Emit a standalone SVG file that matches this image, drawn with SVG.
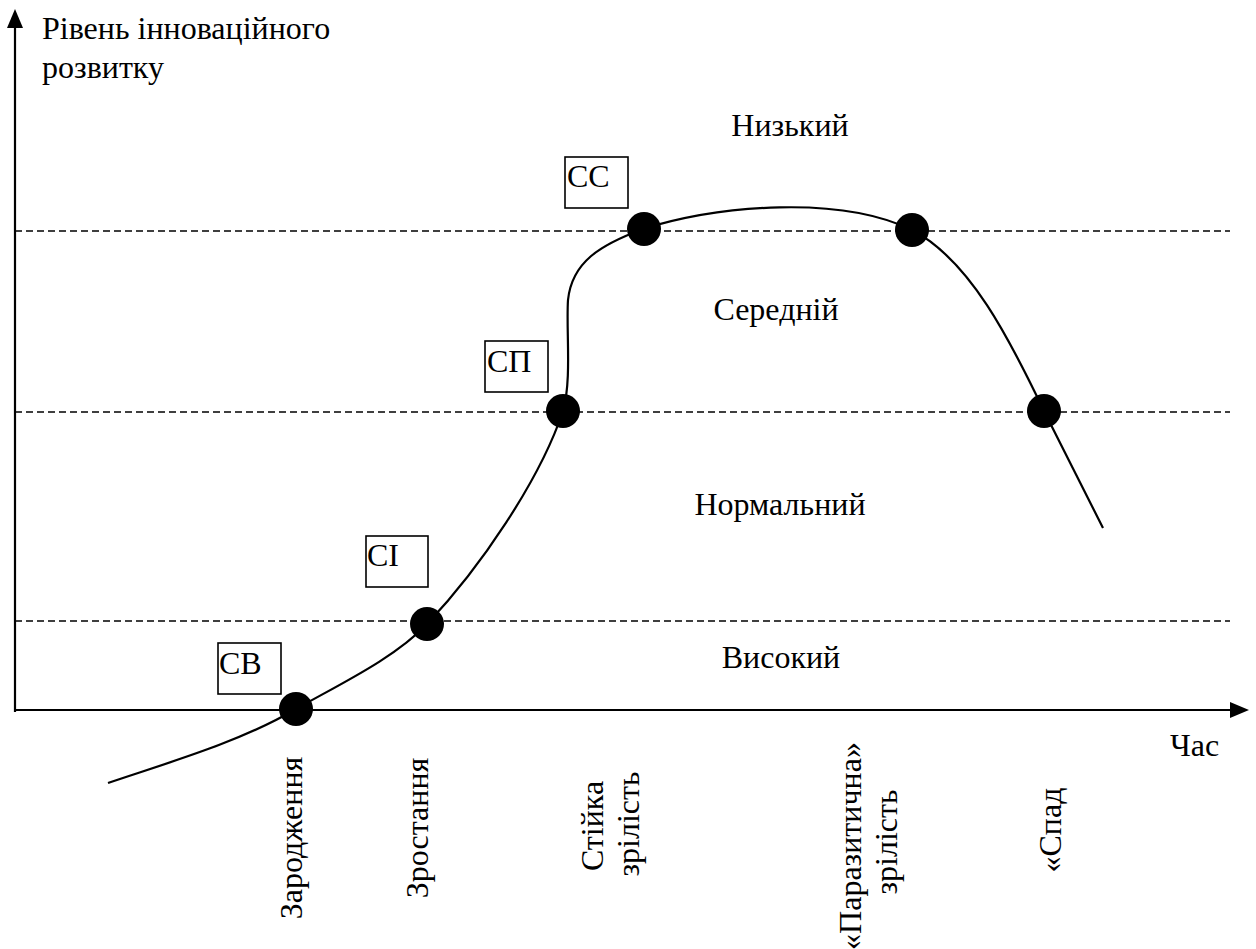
<svg xmlns="http://www.w3.org/2000/svg" width="1256" height="949" viewBox="0 0 1256 949">
<style>
text{font-family:'Liberation Serif','Times New Roman',serif;font-size:32px;fill:#000}
.axis{stroke:#000;stroke-width:2.2;fill:none}
.dash{stroke:#000;stroke-width:1.6;stroke-dasharray:7 4;fill:none}
.curve{stroke:#000;stroke-width:2.2;fill:none}
.dot{fill:#000}
.box{fill:#fff;stroke:#000;stroke-width:1.6}
.mid{text-anchor:middle}
</style>
<rect width="1256" height="949" fill="#fff"/>
<g id="axes">
<line class="axis" x1="15" y1="712" x2="15" y2="26"/>
<polygon points="15,9 7,28 23,28" fill="#000"/>
<line class="axis" x1="14" y1="710" x2="1232" y2="710"/>
<polygon points="1249,710 1230,702 1230,718" fill="#000"/>
<text x="42" y="39">Рівень інноваційного</text>
<text x="42" y="78">розвитку</text>
<text x="1170" y="756">Час</text>
</g>
<g id="levels">
<line class="dash" x1="15" y1="231" x2="1230" y2="231"/>
<line class="dash" x1="15" y1="412" x2="1230" y2="412"/>
<line class="dash" x1="15" y1="621" x2="1230" y2="621"/>
<text class="mid" x="790" y="136">Низький</text>
<text class="mid" x="776" y="320">Середній</text>
<text class="mid" x="780" y="515">Нормальний</text>
<text class="mid" x="781" y="668">Високий</text>
</g>
<g id="connectors">
<path class="curve" d="M108,783 C170,762 240,742 296,709 C340,684 395,658 427,624 C480,568 540,480 563,411 C572,380 566,330 568,300 C572,262 600,245 643,229 C720,205 840,195 912,230 C970,260 1010,340 1044,411 L1103,528"/>
</g>
<g id="node-sv">
<circle class="dot" cx="296" cy="709" r="17"/>
<rect class="box" x="218" y="643" width="63" height="51"/>
<text x="219" y="674">СВ</text>
</g>
<g id="node-si">
<circle class="dot" cx="427" cy="624" r="17"/>
<rect class="box" x="366" y="536" width="62" height="51"/>
<text x="367" y="566">СІ</text>
</g>
<g id="node-sp">
<circle class="dot" cx="563" cy="411" r="17"/>
<rect class="box" x="485" y="341" width="63" height="51"/>
<text x="487" y="372">СП</text>
</g>
<g id="node-ss">
<circle class="dot" cx="644" cy="229" r="17"/>
<rect class="box" x="565" y="157" width="63" height="51"/>
<text x="567" y="187">СС</text>
</g>
<g id="node-p1">
<circle class="dot" cx="912" cy="230" r="17"/>
</g>
<g id="node-p2">
<circle class="dot" cx="1044" cy="411" r="17"/>
</g>
<g id="stages">
<text class="mid" transform="translate(302,838) rotate(-90)">Зародження</text>
<text class="mid" transform="translate(428,828) rotate(-90)">Зростання</text>
<text class="mid" transform="translate(603,826) rotate(-90)">Стійка</text>
<text class="mid" transform="translate(639,824) rotate(-90)">зрілість</text>
<text class="mid" transform="translate(861,846) rotate(-90)">«Паразитична»</text>
<text class="mid" transform="translate(897,842) rotate(-90)">зрілість</text>
<text class="mid" transform="translate(1061,830) rotate(-90)">«Спад</text>
</g>
</svg>
